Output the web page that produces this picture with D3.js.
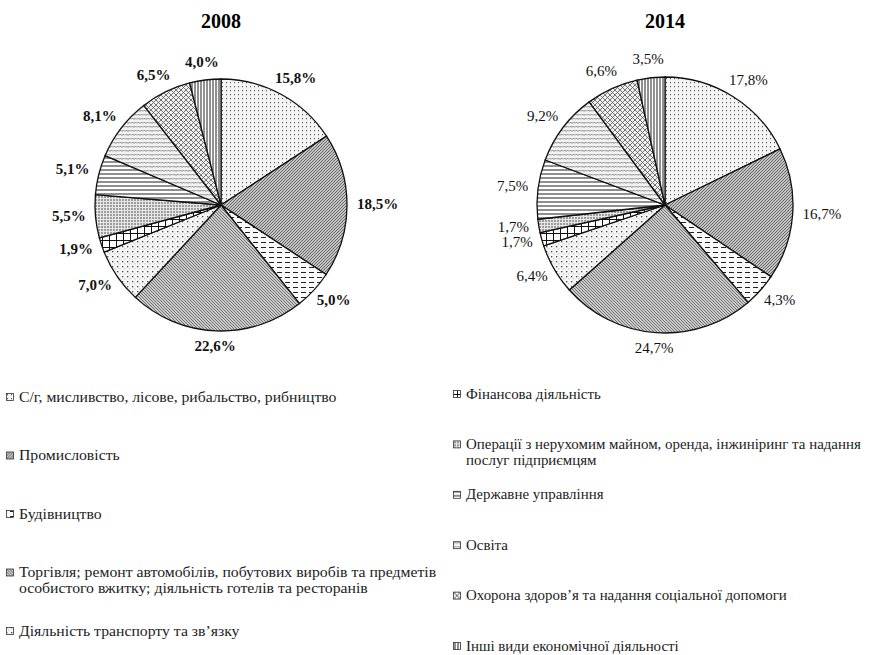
<!DOCTYPE html>
<html>
<head>
<meta charset="utf-8">
<script src="https://cdn.jsdelivr.net/npm/d3@7"></script>
<style>
  body { margin: 0; background: #fff; }
</style>
</head>
<body>
<div id="wrapper"></div>
<script>
const categories = [
  'С/г, мисливство, лісове, рибальство, рибництво',
  'Промисловість',
  'Будівництво',
  'Торгівля; ремонт автомобілів, побутових виробів та предметів\nособистого вжитку; діяльність готелів та ресторанів',
  'Діяльність транспорту та зв\u2019язку',
  'Фінансова діяльність',
  'Операції з нерухомим майном, оренда, інжиніринг та надання\nпослуг підприємцям',
  'Державне управління',
  'Освіта',
  'Охорона здоров\u2019я та надання соціальної допомоги',
  'Інші види економічної діяльності',
]
const years = ['2008', '2014']
const values2008 = [15.8, 18.5, 5.0, 22.6, 7.0, 1.9, 5.5, 5.1, 8.1, 6.5, 4.0]
const values2014 = [17.8, 16.7, 4.3, 24.7, 6.4, 1.7, 1.7, 7.5, 9.2, 6.6, 3.5]

const serif = "'Liberation Serif', 'Times New Roman', serif"

const dimensions = { width: 870, height: 655 }

const wrapper = d3.select('#wrapper')
  .append('svg')
  .attr('width', dimensions.width)
  .attr('height', dimensions.height)
  .attr('font-family', serif)

// hatch patterns, one per category
const defs = wrapper.append('defs')
const pat = (id, w, h, bg) => {
  const p = defs.append('pattern').attr('id', id)
    .attr('patternUnits', 'userSpaceOnUse').attr('width', w).attr('height', h)
  p.append('rect').attr('width', w).attr('height', h).attr('fill', bg)
  return p
}
let p
// 0 light dots
p = pat('p0', 4, 4, '#f4f4f4')
p.append('rect').attr('x', 1).attr('y', 1).attr('width', 1).attr('height', 1.2).attr('fill', '#555')
// 1 dense grey weave
p = pat('p1', 3, 3, '#c4c4c4')
p.append('path').attr('d', 'M0,3 L3,0').attr('stroke', '#5a5a5a').attr('stroke-width', 0.9)
// 2 dashes
p = pat('p2', 8, 5, '#fafafa')
p.append('path').attr('d', 'M0,2.5 H5').attr('stroke', '#222').attr('stroke-width', 1)
// 3 grey weave 2
p = pat('p3', 3, 3, '#cbcbcb')
p.append('path').attr('d', 'M0,0 L3,3').attr('stroke', '#666').attr('stroke-width', 0.9)
// 4 sparse dots
p = pat('p4', 5, 5, '#f6f6f6')
p.append('rect').attr('x', 1).attr('y', 1).attr('width', 1.3).attr('height', 1.3).attr('fill', '#444')
p.append('rect').attr('x', 3.5).attr('y', 3.5).attr('width', 0.8).attr('height', 0.8).attr('fill', '#888')
// 5 grid
p = pat('p5', 7, 7, '#fff')
p.append('path').attr('d', 'M0,0.5 H7 M0.5,0 V7').attr('stroke', '#111').attr('stroke-width', 1)
// 6 vertical dotted
p = pat('p6', 3, 3, '#e6e6e6')
p.append('rect').attr('x', 0.5).attr('y', 0).attr('width', 1).attr('height', 2).attr('fill', '#555')
// 7 horizontal lines
p = pat('p7', 4, 4, '#fff')
p.append('path').attr('d', 'M0,1 H4').attr('stroke', '#333').attr('stroke-width', 1.1)
// 8 waves
p = pat('p8', 6, 4, '#f2f2f2')
p.append('path').attr('d', 'M0,2.5 L1.5,1 L3,2.5 L4.5,1 L6,2.5').attr('stroke', '#666').attr('stroke-width', 0.8).attr('fill', 'none')
// 9 diagonal cross
p = pat('p9', 5, 5, '#f0f0f0')
p.append('path').attr('d', 'M0,5 L5,0 M0,0 L5,5').attr('stroke', '#555').attr('stroke-width', 0.8)
// 10 vertical lines
p = pat('p10', 3, 3, '#fff')
p.append('path').attr('d', 'M1,0 V3').attr('stroke', '#222').attr('stroke-width', 1)

const fillScale = d3.scaleOrdinal()
  .domain(categories)
  .range(categories.map((c, i) => `url(#p${i})`))

const pieGenerator = d3.pie().sort(null).value(d => d.value)
const fmt = d => `${d.toFixed(1).replace('.', ',')}%`

function drawPie(cx, cy, radius, values, year, bold) {
  const data = pieGenerator(values.map((v, i) => ({ key: categories[i], value: v })))
  const arc = d3.arc().innerRadius(0).outerRadius(radius)
  const gap = 10

  const g = wrapper.append('g')
    .attr('transform', `translate(${cx},${cy})`)

  g.selectAll('path')
    .data(data)
    .enter().append('path')
    .attr('d', arc)
    .attr('fill', d => fillScale(d.data.key))
    .attr('stroke', '#111')
    .attr('stroke-width', 1.3)

  // labels sit just outside the rim, pushed out by half their box
  g.selectAll('text.lbl')
    .data(data)
    .enter().append('text')
    .attr('class', 'lbl')
    .attr('text-anchor', 'middle')
    .attr('dominant-baseline', 'middle')
    .attr('font-size', 15)
    .attr('font-weight', bold ? 'bold' : 'normal')
    .attr('fill', '#111')
    .text(d => fmt(d.data.value))
    .attr('transform', function (d) {
      const a = (d.startAngle + d.endAngle) / 2
      const w = this.getComputedTextLength()
      const x = Math.sin(a) * (radius + gap + w / 2)
      const y = -Math.cos(a) * (radius + gap + 7)
      return `translate(${x},${y})`
    })

  wrapper.append('text')
    .attr('x', cx)
    .attr('y', 28)
    .attr('text-anchor', 'middle')
    .attr('font-size', 20)
    .attr('font-weight', 'bold')
    .text(year)
}

drawPie(221, 205, 126, values2008, years[0], true)
drawPie(665, 205, 128, values2014, years[1], false)

// legend in two columns
const legendCols = [
  { items: categories.slice(0, 5), x: 10, y: 397, step: 58.5, size: 15, stretch: 1.05 },
  { items: categories.slice(5), x: 457, y: 394, step: 50.4, size: 14.5, stretch: 1.03 },
]
legendCols.forEach(col => {
  const item = wrapper.append('g').selectAll('g')
    .data(col.items)
    .enter().append('g')
    .attr('transform', (d, i) => `translate(${col.x},${col.y + i * col.step})`)

  item.append('rect')
    .attr('x', -3.5).attr('y', -3.5)
    .attr('width', 7).attr('height', 7)
    .attr('fill', d => fillScale(d))
    .attr('stroke', '#333')
    .attr('stroke-width', 0.8)

  item.append('text')
    .attr('transform', `translate(9,4.5) scale(${col.stretch},1)`)
    .attr('font-size', col.size)
    .attr('fill', '#222')
    .selectAll('tspan')
    .data(d => d.split('\n'))
    .enter().append('tspan')
    .attr('x', 0)
    .attr('dy', (d, i) => i === 0 ? 0 : 16)
    .text(d => d)
})
</script>
</body>
</html>
